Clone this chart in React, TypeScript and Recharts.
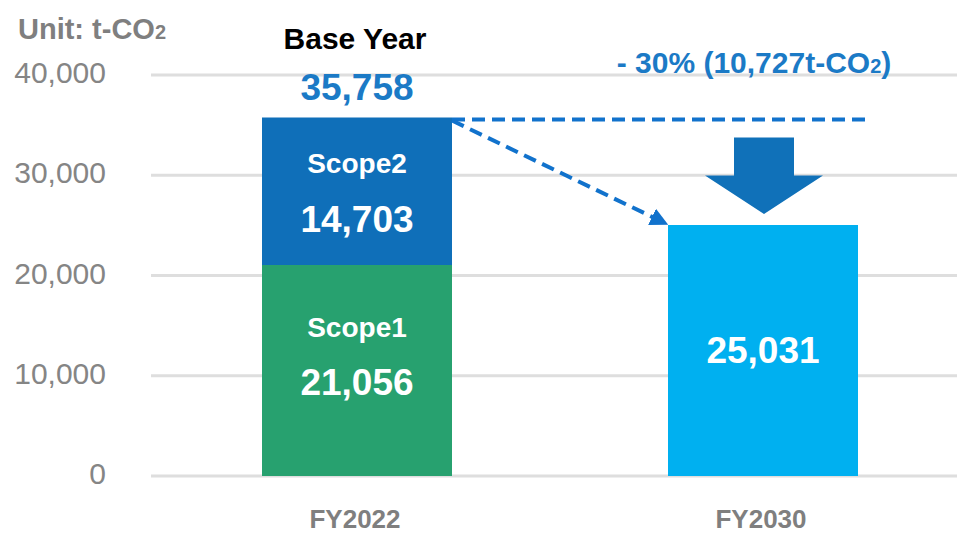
import React from 'react';
import { BarChart, Bar, XAxis, YAxis, CartesianGrid, LabelList } from 'recharts';

// values
const categories = ['FY2022', 'FY2030'];
const scope1Values = [21056, 0];
const scope2Values = [14703, 0];
const targetValues = [0, 25031];
const yTicks = [0, 10000, 20000, 30000, 40000];
const baseTotal = 35758;
const reductionPct = 30;
const reductionAmount = 10727;

const data = categories.map((name, i) => ({
  name,
  scope1: scope1Values[i],
  scope2: scope2Values[i],
  target: targetValues[i],
}));

const FONT = '"Liberation Sans", Arial, sans-serif';
const W = 957;
const H = 535;
const CHART_W = 970;
const M_TOP = 75;
const M_RIGHT = 4;
const Y_AXIS_W = 151;
const X_AXIS_H = 59;
const PAD_LEFT = 3;
const BAR = 190;
const Y_MAX = 40000;

const PLOT_H = H - M_TOP - X_AXIS_H;
const BAND = (CHART_W - M_RIGHT - Y_AXIS_W - PAD_LEFT) / categories.length;
const xCenter = (i: number) => Y_AXIS_W + PAD_LEFT + BAND * (i + 0.5);
const yOf = (v: number) => M_TOP + PLOT_H * (1 - v / Y_MAX);

const fmt = (v: number) => v.toLocaleString('en-US');

const COLORS = {
  scope1: '#27a16f',
  scope2: '#0f6fb9',
  target: '#00b0f0',
  accent: '#1b7ac6',
  dash: '#1172cc',
  arrow: '#1071b9',
  grey: '#7f7f7f',
};

const YTick = (props: any) => {
  const { x, y, payload } = props;
  return (
    <text x={x} y={y} dy={8} textAnchor="end" fill="#858585" fontSize={30} fontFamily={FONT}>
      {fmt(payload.value)}
    </text>
  );
};

const XTick = (props: any) => {
  const { x, y, payload } = props;
  return (
    <text x={x - 2} y={y} dy={52} textAnchor="middle" fill={COLORS.grey} fontSize={26} fontWeight="bold" fontFamily={FONT}>
      {payload.value}
    </text>
  );
};

// two-line label inside a bar: optional name + value
const makeLabel = (title: string | null, titleDy: number, valueDy: number) => (props: any) => {
  const { x, y, width, value } = props;
  if (!value) return null;
  const cx = x + width / 2;
  return (
    <g fontFamily={FONT} fontWeight="bold" fill="#fff" textAnchor="middle">
      {title && (
        <text x={cx} y={y + titleDy} fontSize={28}>
          {title}
        </text>
      )}
      <text x={cx} y={y + valueDy} fontSize={37}>
        {fmt(value)}
      </text>
    </g>
  );
};

const Scope2Label = (props: any) => {
  const { x, y, width, value } = props;
  if (!value) return null;
  const cx = x + width / 2;
  return (
    <g fontFamily={FONT} fontWeight="bold" textAnchor="middle">
      <text x={cx - 2} y={y - 69} fontSize={30} fill="#000">
        Base Year
      </text>
      <text x={cx} y={y - 18} fontSize={37} fill={COLORS.accent}>
        {fmt(baseTotal)}
      </text>
      <text x={cx} y={y + 55} fontSize={28} fill="#fff">
        Scope2
      </text>
      <text x={cx} y={y + 114} fontSize={37} fill="#fff">
        {fmt(value)}
      </text>
    </g>
  );
};

const Overlay = () => {
  const baseTop = yOf(scope1Values[0] + scope2Values[0]);
  const targetTop = yOf(targetValues[1]);
  const baseRight = xCenter(0) + BAR / 2;
  const targetLeft = xCenter(1) - BAR / 2;
  const ax = xCenter(1) + 1;
  const shaftTop = baseTop + 20;
  const headY = shaftTop + 38;
  const tipY = targetTop - 11;
  return (
    <svg width={W} height={H} style={{ position: 'absolute', left: 0, top: 0, pointerEvents: 'none' }}>
      <defs>
        <marker id="head" viewBox="0 0 10 10" refX="8" refY="5" markerWidth="4.5" markerHeight="4.5" orient="auto">
          <path d="M0,0 L10,5 L0,10 z" fill={COLORS.dash} />
        </marker>
      </defs>
      <text x={18} y={39} fontFamily={FONT} fontWeight="bold" fontSize={29} fill={COLORS.grey}>
        Unit: t-CO<tspan fontSize={20}>2</tspan>
      </text>
      <text x={754} y={73} textAnchor="middle" fontFamily={FONT} fontWeight="bold" fontSize={30} fill={COLORS.accent}>
        - {reductionPct}% ({fmt(reductionAmount)}t-CO<tspan fontSize={20}>2</tspan>)
      </text>
      <line x1={baseRight} y1={baseTop + 2} x2={870} y2={baseTop + 2} stroke={COLORS.dash} strokeWidth={4} strokeDasharray="13 7" />
      <line
        x1={baseRight}
        y1={baseTop + 3}
        x2={targetLeft - 3}
        y2={targetTop - 2}
        stroke={COLORS.dash}
        strokeWidth={4}
        strokeDasharray="13 7"
        markerEnd="url(#head)"
      />
      <polygon
        points={`${ax - 30},${shaftTop} ${ax + 30},${shaftTop} ${ax + 30},${headY} ${ax + 59},${headY} ${ax},${tipY} ${ax - 59},${headY} ${ax - 30},${headY}`}
        fill={COLORS.arrow}
      />
    </svg>
  );
};

export default function App() {
  return (
    <div style={{ position: 'absolute', left: 0, top: 0, width: W, height: H, overflow: 'hidden', background: '#fff' }}>
      <BarChart
        width={CHART_W}
        height={H}
        data={data}
        margin={{ top: M_TOP, right: M_RIGHT, bottom: 0, left: 0 }}
      >
        <CartesianGrid vertical={false} stroke="#dedede" strokeWidth={3} />
        <XAxis
          dataKey="name"
          axisLine={false}
          tickLine={false}
          tickSize={0}
          tickMargin={0}
          height={X_AXIS_H}
          padding={{ left: PAD_LEFT, right: 0 }}
          interval={0}
          tick={(p: any) => <XTick {...p} />}
        />
        <YAxis
          domain={[0, Y_MAX]}
          ticks={yTicks}
          axisLine={false}
          tickLine={false}
          tickSize={0}
          tickMargin={45}
          width={Y_AXIS_W}
          tick={(p: any) => <YTick {...p} />}
        />
        <Bar dataKey="scope1" stackId="a" fill={COLORS.scope1} barSize={BAR} isAnimationActive={false}>
          <LabelList dataKey="scope1" content={makeLabel('Scope1', 72, 130)} />
        </Bar>
        <Bar dataKey="scope2" stackId="a" fill={COLORS.scope2} barSize={BAR} isAnimationActive={false}>
          <LabelList dataKey="scope2" content={Scope2Label} />
        </Bar>
        <Bar dataKey="target" stackId="a" fill={COLORS.target} barSize={BAR} isAnimationActive={false}>
          <LabelList dataKey="target" content={makeLabel(null, 0, 138)} />
        </Bar>
      </BarChart>
      <Overlay />
    </div>
  );
}
